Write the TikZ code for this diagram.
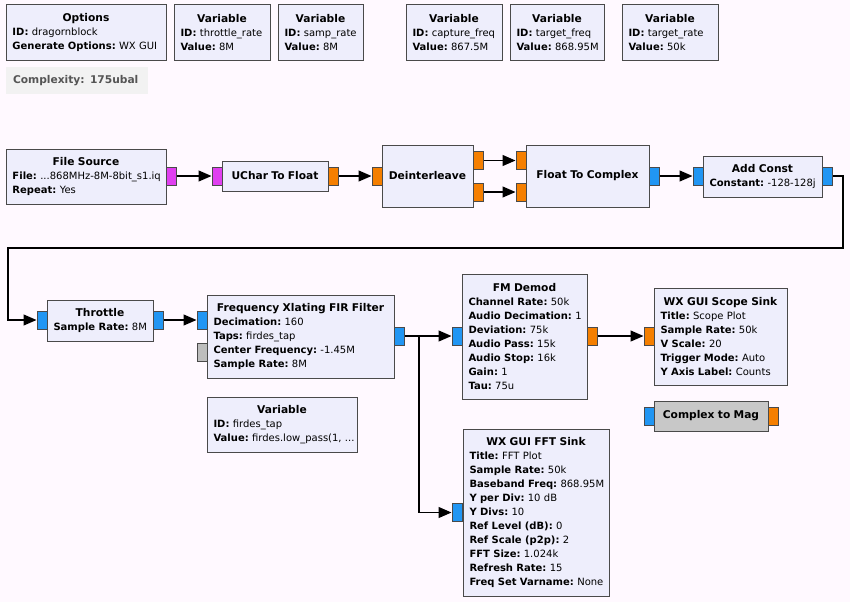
\documentclass[tikz,border=0pt]{standalone}
\usepackage{fontspec}
\setmainfont{DejaVu Sans}
\usetikzlibrary{arrows.meta}
\definecolor{bgc}{HTML}{FFF9FF}
\definecolor{blkfill}{HTML}{EEEEFC}
\definecolor{blkdraw}{HTML}{4A4A4A}
\definecolor{pblue}{HTML}{2196F3}
\definecolor{porange}{HTML}{F57F00}
\definecolor{pmag}{HTML}{E040F0}
\definecolor{pgray}{HTML}{BDBDBD}
\definecolor{gblk}{HTML}{C8C8C8}
\definecolor{cplxfill}{HTML}{F2F2F2}
\definecolor{cplxtext}{HTML}{555555}
\tikzset{
  blk/.style={draw=blkdraw, fill=blkfill, line width=1pt, inner xsep=6.5pt, inner ysep=0pt, align=left,
    font=\fontsize{10}{14}\selectfont\frenchspacing},
  port/.style={draw=blkdraw, line width=1pt, minimum width=10pt, minimum height=18pt, inner sep=0pt},
  conn/.style={line width=1.2pt, black, -{Triangle[length=13pt,width=11pt]}},
  wire/.style={line width=1.2pt, black}
}
\newcommand\prm[2]{\mbox{\textbf{#1:} #2}}
\newcommand\ttl[1]{\raggedright\noindent\makebox[\linewidth][c]{\fontsize{10.67}{14}\selectfont\bfseries #1}\par}
% #1 extra style, #2 name, #3 x1, #4 y1, #5 x2, #6 y2, #7 content
\newcommand\grcblk[7][]{%
  \pgfmathsetmacro\bw{#5-#3}\pgfmathsetmacro\bh{#6-#4}\pgfmathsetmacro\tw{#5-#3-13}%
  \node[blk,#1,minimum width=\bw pt,minimum height=\bh pt,text width=\tw pt] (#2) at ({(#3+#5)/2},{(#4+#6)/2}) {#7};}
% #1 name, #2 colour, #3 x centre, #4 y centre
\newcommand\grcport[4]{\node[port, fill=#2] (#1) at (#3,#4) {};}
\begin{document}
\begin{tikzpicture}[x=1pt,y=-1pt]
\useasboundingbox[fill=bgc] (0,0) rectangle (850,602);

% top row
\grcblk{opt}{6}{5}{166}{60}{\ttl{Options}\prm{ID}{dragornblock}\\\prm{Generate Options}{WX GUI}}
\grcblk{v1}{174}{5}{270}{60}{\ttl{Variable}\prm{ID}{throttle\_rate}\\\prm{Value}{8M}}
\grcblk{v2}{278}{5}{363}{60}{\ttl{Variable}\prm{ID}{samp\_rate}\\\prm{Value}{8M}}
\grcblk{v3}{406}{5}{502}{60}{\ttl{Variable}\prm{ID}{capture\_freq}\\\prm{Value}{867.5M}}
\grcblk{v4}{510}{5}{604}{60}{\ttl{Variable}\prm{ID}{target\_freq}\\\prm{Value}{868.95M}}
\grcblk{v5}{622}{5}{718}{60}{\ttl{Variable}\prm{ID}{target\_rate}\\\prm{Value}{50k}}
\node[fill=cplxfill, minimum width=142pt, minimum height=27pt, inner xsep=7pt, text width=128pt, align=left,
  font=\fontsize{10.67}{14}\selectfont\bfseries, text=cplxtext] (cplx) at (77,80.5) {Complexity: 175ubal};

% second row
\grcblk{fsrc}{6}{149}{166}{204}{\ttl{File Source}\prm{File}{...868MHz-8M-8bit\_s1.iq}\\\prm{Repeat}{Yes}}
\grcport{fsrco}{pmag}{171}{176}
\grcblk{uc}{222}{161}{328}{191}{\ttl{UChar To Float}}
\grcport{uci}{pmag}{217}{176}
\grcport{uco}{porange}{333}{176}
\grcblk{dei}{382}{145}{473}{207}{\ttl{Deinterleave}}
\grcport{deii}{porange}{377}{176}
\grcport{deio1}{porange}{478}{160.5}
\grcport{deio2}{porange}{478}{192}
\grcblk{f2c}{526}{145}{649}{207}{\ttl{Float To Complex}}
\grcport{f2ci1}{porange}{521}{160.5}
\grcport{f2ci2}{porange}{521}{192}
\grcport{f2co}{pblue}{654}{176}
\grcblk{addc}{703}{156}{822}{197}{\ttl{Add Const}\prm{Constant}{-128-128j}}
\grcport{addci}{pblue}{698}{176}
\grcport{addco}{pblue}{827}{176}

% third row
\grcblk{thr}{47}{300}{153}{341}{\ttl{Throttle}\prm{Sample Rate}{8M}}
\grcport{thri}{pblue}{42}{320}
\grcport{thro}{pblue}{158}{320}
\grcblk{xl}{207}{295}{394}{378}{\ttl{Frequency Xlating FIR Filter}\prm{Decimation}{160}\\\prm{Taps}{firdes\_tap}\\\prm{Center Frequency}{-1.45M}\\\prm{Sample Rate}{8M}}
\grcport{xli}{pblue}{202}{320}
\grcport{xlg}{pgray}{202}{352}
\grcport{xlo}{pblue}{399}{336}
\grcblk{fm}{462}{274}{587}{399}{\ttl{FM Demod}\prm{Channel Rate}{50k}\\\prm{Audio Decimation}{1}\\\prm{Deviation}{75k}\\\prm{Audio Pass}{15k}\\\prm{Audio Stop}{16k}\\\prm{Gain}{1}\\\prm{Tau}{75u}}
\grcport{fmi}{pblue}{457}{336}
\grcport{fmo}{porange}{592}{336}
\grcblk{sc}{654}{288}{787}{385}{\ttl{WX GUI Scope Sink}\prm{Title}{Scope Plot}\\\prm{Sample Rate}{50k}\\\prm{V Scale}{20}\\\prm{Trigger Mode}{Auto}\\\prm{Y Axis Label}{Counts}}
\grcport{sci}{porange}{649}{336}
\grcblk[fill=gblk]{c2m}{654}{401}{768}{431}{\ttl{Complex to Mag}}
\grcport{c2mi}{pblue}{649}{416}
\grcport{c2mo}{porange}{773}{416}
\grcblk{fv}{207}{397}{357}{452}{\ttl{Variable}\prm{ID}{firdes\_tap}\\\prm{Value}{firdes.low\_pass(1, ...}}
\grcblk{fft}{463}{429}{609}{596}{\ttl{WX GUI FFT Sink}\prm{Title}{FFT Plot}\\\prm{Sample Rate}{50k}\\\prm{Baseband Freq}{868.95M}\\\prm{Y per Div}{10 dB}\\\prm{Y Divs}{10}\\\prm{Ref Level (dB)}{0}\\\prm{Ref Scale (p2p)}{2}\\\prm{FFT Size}{1.024k}\\\prm{Refresh Rate}{15}\\\prm{Freq Set Varname}{None}}
\grcport{ffti}{pblue}{457}{512.5}

% connections
\coordinate (r1) at (843,248);
\coordinate (r2) at (8,248);
\coordinate (jx) at (419,336);
\draw[conn] (fsrco.east) -- (uci.west);
\draw[conn] (uco.east) -- (deii.west);
\draw[conn] (deio1.east) -- (f2ci1.west);
\draw[conn] (deio2.east) -- (f2ci2.west);
\draw[conn] (f2co.east) -- (addci.west);
\draw[conn] (addco.east) -| (r1) -- (r2) |- (thri.west);
\draw[conn] (thro.east) -- (xli.west);
\draw[wire] (xlo.east) -- (jx);
\draw[conn] (jx) -- (fmi.west);
\draw[conn] (jx) |- (ffti.west);
\draw[conn] (fmo.east) -- (sci.west);
\end{tikzpicture}
\end{document}
